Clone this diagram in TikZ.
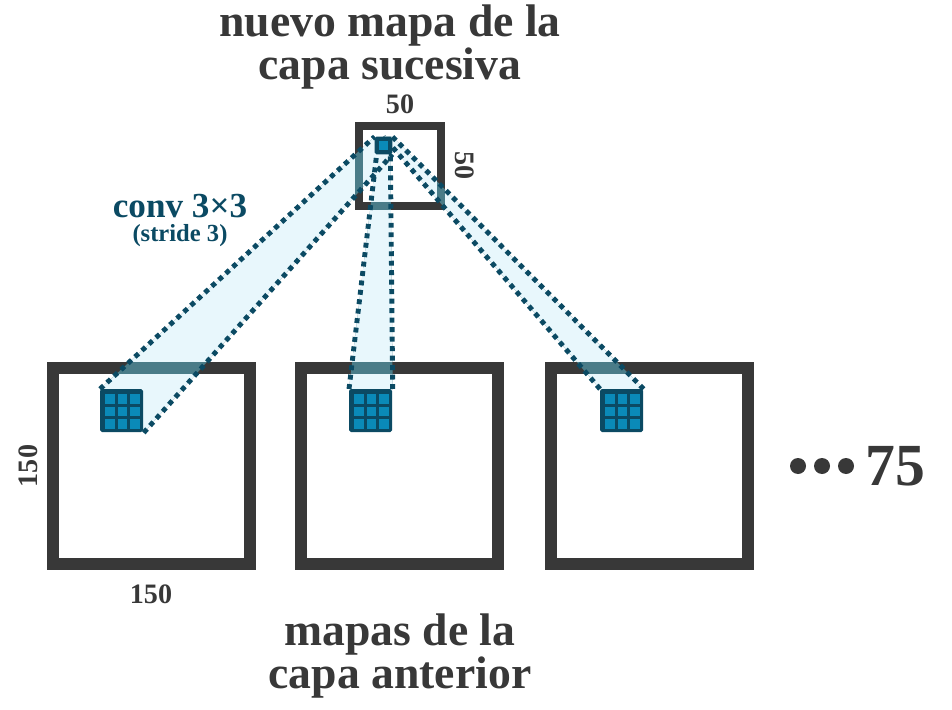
\documentclass[tikz,border=0pt]{standalone}
\usepackage{fontspec}
\setmainfont{Liberation Serif}
\usetikzlibrary{positioning, calc}
\definecolor{frame}{HTML}{383838}
\definecolor{deep}{HTML}{0B4A63}
\definecolor{cell}{HTML}{0A8AB8}
\definecolor{beam}{HTML}{E8F7FC}
\definecolor{teal}{HTML}{4A7C88}
\newcommand{\beamfill}{%
  \fill (kA.north west) -- (u.north west) -- (u.south east) -- (kA.south east) -- cycle;
  \fill (kB.north west) -- (uB1) -- (uB2) -- (kB.north east) -- cycle;
  \fill (kC.north west) -- (u.north) -- (u.north east) -- (kC.north east) -- cycle;}
\tikzset{
  ray/.style={draw=deep, line width=2.8pt, dash pattern=on 2.8pt off 2.6pt},
  lbl/.style={text=frame, font=\bfseries}
}
\begin{document}
\begin{tikzpicture}[x=0.02cm, y=-0.02cm]
\useasboundingbox (0,0) rectangle (952,709);
% kernel positions
\foreach \n/\x in {kA/100, kB/349, kC/600}
  \node[minimum size=0.86cm, inner sep=0pt, anchor=north west] (\n) at (\x,389) {};
\node[minimum size=0.34cm, inner sep=0pt] (u) at (383.5,145.5) {};
\coordinate (uB1) at ($(u.south west)+(2,0)$);
\coordinate (uB2) at ($(u.south east)+(-2,0)$);
% beams, frames, beams again
\begin{scope}[fill=beam] \beamfill \end{scope}
\foreach \x in {47, 295, 545}
  \draw[draw=frame, line width=0.24cm] (\x+6,368) rectangle (\x+203,564);
\draw[draw=frame, line width=0.16cm] (359,126) rectangle (441,206);
\begin{scope}[fill=teal, blend mode=lighten] \beamfill \end{scope}
\draw[ray] (kA.north west) -- (u.north west);
\draw[ray] (kA.south east) -- (u.south east);
\draw[ray] (kB.north west) -- (uB1);
\draw[ray] (kB.north east) -- (uB2);
\draw[ray] (kC.north west) -- (u.north);
\draw[ray] (kC.north east) -- (u.north east);
% kernels
\foreach \x in {100, 349, 600} {
  \fill[deep, rounded corners=1pt] (\x,389) rectangle ++(43,43);
  \foreach \i in {0,1,2} \foreach \j in {0,1,2}
    \fill[cell] (\x+5+\i*12.5,394+\j*12.5) rectangle ++(9.5,9.5);
}
\fill[deep, rounded corners=1pt] (u.north west) rectangle (u.south east);
\fill[cell] (379,141) rectangle (388,150);
% labels
\node[lbl, font=\bfseries\fontsize{26}{22}\selectfont, align=center] (top) at (390,47) {nuevo mapa de la\\capa sucesiva};
\node[lbl, font=\bfseries\fontsize{26}{22}\selectfont, align=center] (bot) at (400,656) {mapas de la\\capa anterior};
\node[lbl, font=\bfseries\fontsize{16}{16}\selectfont] (w50) at (400,104) {50};
\node[lbl, font=\bfseries\fontsize{16}{16}\selectfont, rotate=-90] (h50) at (465,166) {50};
\node[lbl, font=\bfseries\fontsize{16}{16}\selectfont] (w150) at (151,594) {150};
\node[lbl, font=\bfseries\fontsize{16}{16}\selectfont, rotate=90] (h150) at (28,466) {150};
\node[text=deep, font=\bfseries\fontsize{20}{20}\selectfont] (conv) at (180,206) {conv 3×3};
\node[text=deep, font=\bfseries\fontsize{14}{14}\selectfont] (str) at (180,236) {(stride 3)};
\node[lbl, font=\bfseries\fontsize{34}{34}\selectfont] (n75) at (895,466) {75};
\foreach \x in {798,822,846} \fill[frame] (\x,466) circle (8);
\end{tikzpicture}
\end{document}
